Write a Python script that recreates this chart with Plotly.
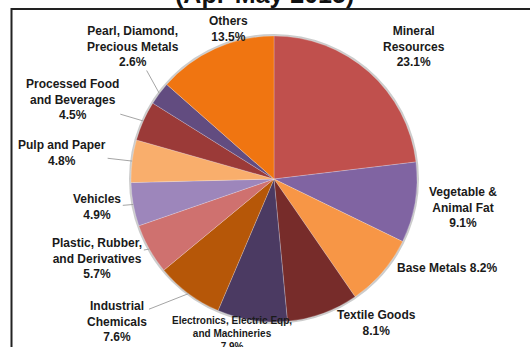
import math
import plotly.graph_objects as go

# Export composition by commodity group, share of total (%)
categories = [
    "Mineral<br>Resources",
    "Vegetable &<br>Animal Fat",
    "Base Metals",
    "Textile Goods",
    "Electronics, Electric Eqp,<br>and Machineries",
    "Industrial<br>Chemicals",
    "Plastic, Rubber,<br>and Derivatives",
    "Vehicles",
    "Pulp and Paper",
    "Processed Food<br>and Beverages",
    "Pearl, Diamond,<br>Precious Metals",
    "Others",
]
shares = [23.1, 9.1, 8.2, 8.1, 7.9, 7.6, 5.7, 4.9, 4.8, 4.5, 2.6, 13.5]
title_text = "(Apr-May 2015)"

colors = [
    "#C0504D", "#8064A2", "#F79646", "#772C2A", "#4B3A62", "#B65708",
    "#CF716F", "#9D86BB", "#F9AE6C", "#9B3A38", "#624C80", "#F07511",
]

# label layout: text offset from the slice's rim point (px), leader line on/off,
# separator between name and value, font size
label_dx = [45, 48, 65, 54, -20, -71, -52, -36, -70, -71, -26, 13]
label_dy = [-26, 5, -4, 10, 13, 28, 9, 3, -8, -21, -47, -20]
leader = [False, False, False, False, False, True, True, True, True, True, True, False]
sep = ["<br>", "<br>", " ", "<br>", "<br>", "<br>", "<br>", "<br>", "<br>", "<br>", "<br>", "<br>"]
fsize = [12, 12, 12, 12, 10, 12, 12, 12, 12, 12, 12, 12]

W, H = 530, 347
CX, CY, R = 274, 179, 143
dom_x = [(CX - R) / W, (CX + R) / W]
dom_y = [1 - (CY + R) / H, 1 - (CY - R) / H]

fig = go.Figure()

# soft rim shadow behind the pie
fig.add_trace(go.Pie(
    values=[1], domain=dict(x=dom_x, y=dom_y), sort=False,
    marker=dict(colors=["white"], line=dict(color="rgba(110,110,110,0.35)", width=4)),
    textinfo="none", hoverinfo="skip", showlegend=False,
))

fig.add_trace(go.Pie(
    labels=categories, values=shares, domain=dict(x=dom_x, y=dom_y),
    sort=False, direction="clockwise", rotation=0,
    marker=dict(colors=colors, line=dict(color="rgba(255,255,255,0.35)", width=0.6)),
    textinfo="none", hoverinfo="label+value", showlegend=False,
))

total = sum(shares)
annotations = []
cum = 0.0
for i, (name, v) in enumerate(zip(categories, shares)):
    mid = (cum + v / 2) / total
    cum += v
    th = 2 * math.pi * mid
    px = CX + R * math.sin(th)
    py = CY - R * math.cos(th)
    annotations.append(dict(
        x=px / W, y=1 - py / H, xref="paper", yref="paper",
        text=f"<b>{name}{sep[i]}{v:.1f}%</b>",
        showarrow=True, arrowhead=0, arrowwidth=0.9,
        arrowcolor="#9A9A9A" if leader[i] else "rgba(0,0,0,0)",
        ax=label_dx[i], ay=label_dy[i], standoff=0, startstandoff=0,
        font=dict(family="Liberation Sans, Arial, sans-serif", size=fsize[i], color="#1a1a1a"),
        align="center",
    ))

annotations.append(dict(
    x=264 / W, y=1 + 6 / H, xref="paper", yref="paper",
    text=f"<b>{title_text}</b>", showarrow=False, xanchor="center", yanchor="middle",
    font=dict(family="Liberation Sans, Arial, sans-serif", size=25, color="#111111"),
))

fig.update_layout(
    width=W, height=H,
    margin=dict(l=0, r=0, t=0, b=0),
    paper_bgcolor="white", plot_bgcolor="white",
    annotations=annotations,
    shapes=[dict(
        type="rect", xref="paper", yref="paper",
        x0=11.5 / W, x1=1.05, y0=-0.05, y1=1 - 9 / H,
        line=dict(color="#222222", width=2), layer="above",
    )],
)

fig.write_html("out.html")
